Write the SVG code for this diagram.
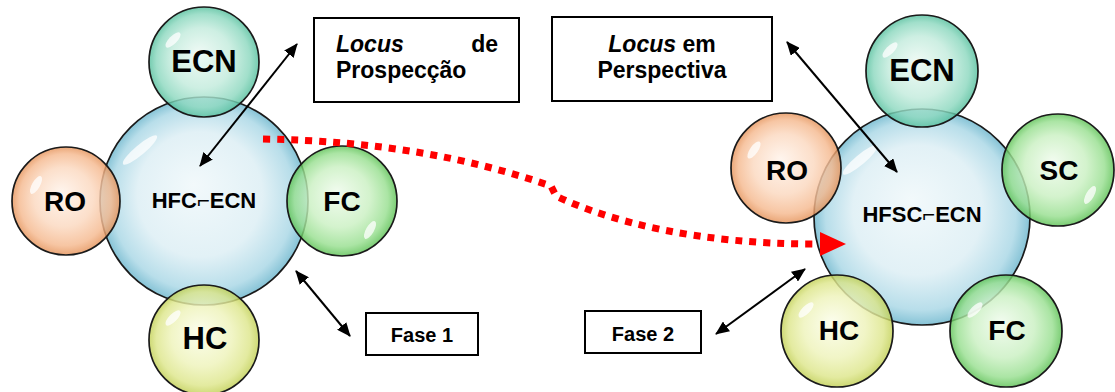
<svg xmlns="http://www.w3.org/2000/svg" width="1115" height="392" viewBox="0 0 1115 392">
<style>
.bub{stroke:#1a1a1a;stroke-width:1.7}
.sat{fill-opacity:0.82}
.hl{fill:#ffffff;opacity:0.75}
.lbl{font-family:"Liberation Sans",Arial,sans-serif;font-weight:bold;fill:#000;text-anchor:middle}
.box{fill:#fff;stroke:#000;stroke-width:2}
.bt{font-family:"Liberation Sans",Arial,sans-serif;font-weight:bold;font-size:23px;fill:#000}
.ft{font-family:"Liberation Sans",Arial,sans-serif;font-weight:bold;font-size:20px;fill:#000;text-anchor:middle}
.arr{stroke:#000;stroke-width:2;fill:none;marker-start:url(#ah);marker-end:url(#ah)}
.red{stroke:#ff0000;stroke-width:7;fill:none;stroke-dasharray:7 7}
</style>
<defs>
<marker id="ah" viewBox="0 0 14 12" refX="13" refY="6" markerWidth="14" markerHeight="12" markerUnits="userSpaceOnUse" orient="auto-start-reverse">
<path d="M0,0 L14,6 L0,12 z" fill="#000"/>
</marker>
<radialGradient id="gBlue" cx="50%" cy="50%" r="50%" fx="45%" fy="42%">
<stop offset="0" stop-color="#f2f9fb"/><stop offset="0.6" stop-color="#e2f1f6"/><stop offset="0.88" stop-color="#b8deea"/><stop offset="1" stop-color="#86c3d6"/>
</radialGradient>
<radialGradient id="gTeal" cx="50%" cy="50%" r="50%" fx="45%" fy="42%">
<stop offset="0" stop-color="#ecf9f3"/><stop offset="0.55" stop-color="#c2ebdc"/><stop offset="0.85" stop-color="#8cd8bf"/><stop offset="1" stop-color="#56c09e"/>
</radialGradient>
<radialGradient id="gOrange" cx="50%" cy="50%" r="50%" fx="45%" fy="42%">
<stop offset="0" stop-color="#fff3ea"/><stop offset="0.55" stop-color="#fbd8bf"/><stop offset="0.85" stop-color="#f5b98f"/><stop offset="1" stop-color="#e5935a"/>
</radialGradient>
<radialGradient id="gGreen" cx="50%" cy="50%" r="50%" fx="45%" fy="42%">
<stop offset="0" stop-color="#effbec"/><stop offset="0.55" stop-color="#caf0c2"/><stop offset="0.85" stop-color="#98df90"/><stop offset="1" stop-color="#5ec256"/>
</radialGradient>
<radialGradient id="gYellow" cx="50%" cy="50%" r="50%" fx="45%" fy="42%">
<stop offset="0" stop-color="#fbfde9"/><stop offset="0.55" stop-color="#eef3ba"/><stop offset="0.85" stop-color="#dde68b"/><stop offset="1" stop-color="#c2d055"/>
</radialGradient>
</defs>
<rect width="1115" height="392" fill="#fff"/>

<!-- Left cluster -->
<g id="hub1">
<circle class="bub" cx="204" cy="201" r="104" fill="url(#gBlue)"/>
<ellipse class="hl" cx="140" cy="150" rx="22" ry="5" transform="rotate(-40 140 150)" opacity="0.5"/>
</g>
<g id="ecn1">
<circle class="bub sat" cx="204" cy="62" r="55" fill="url(#gTeal)"/>
<ellipse class="hl" cx="173" cy="40" rx="10" ry="4" transform="rotate(-45 173 40)"/>
</g>
<g id="ro1">
<circle class="bub sat" cx="66" cy="201" r="54" fill="url(#gOrange)"/>
<ellipse class="hl" cx="36" cy="185" rx="10" ry="4" transform="rotate(-60 36 185)"/>
</g>
<g id="fc1">
<circle class="bub sat" cx="342" cy="201" r="55" fill="url(#gGreen)"/>
<ellipse class="hl" cx="370" cy="230" rx="10" ry="4" transform="rotate(-60 370 230)"/>
</g>
<g id="hc1">
<circle class="bub sat" cx="204" cy="340" r="55" fill="url(#gYellow)"/>
<ellipse class="hl" cx="173" cy="318" rx="10" ry="4" transform="rotate(-45 173 318)"/>
</g>
<g id="labels1">
<text class="lbl" x="204" y="72" font-size="31">ECN</text>
<text class="lbl" x="65" y="211" font-size="28">RO</text>
<text class="lbl" x="342" y="211" font-size="28">FC</text>
<text class="lbl" x="205" y="349" font-size="31">HC</text>
<text class="lbl" x="204" y="208" font-size="22">HFC⌐ECN</text>
</g>

<!-- Right cluster -->
<g id="hub2">
<circle class="bub" cx="922" cy="217" r="108" fill="url(#gBlue)"/>
<ellipse class="hl" cx="860" cy="160" rx="22" ry="5" transform="rotate(-40 860 160)" opacity="0.5"/>
</g>
<g id="ecn2">
<circle class="bub sat" cx="922" cy="71" r="56" fill="url(#gTeal)"/>
<ellipse class="hl" cx="890" cy="50" rx="10" ry="4" transform="rotate(-45 890 50)"/>
</g>
<g id="ro2">
<circle class="bub sat" cx="786" cy="168" r="55" fill="url(#gOrange)"/>
<ellipse class="hl" cx="754" cy="150" rx="10" ry="4" transform="rotate(-55 754 150)"/>
</g>
<g id="sc2">
<circle class="bub sat" cx="1058" cy="170" r="56" fill="url(#gGreen)"/>
<ellipse class="hl" cx="1090" cy="195" rx="10" ry="4" transform="rotate(-60 1090 195)"/>
</g>
<g id="hc2">
<circle class="bub sat" cx="837" cy="331" r="56" fill="url(#gYellow)"/>
<ellipse class="hl" cx="806" cy="310" rx="10" ry="4" transform="rotate(-45 806 310)"/>
</g>
<g id="fc2">
<circle class="bub sat" cx="1006" cy="331" r="56" fill="url(#gGreen)"/>
<ellipse class="hl" cx="975" cy="310" rx="10" ry="4" transform="rotate(-45 975 310)"/>
</g>
<g id="labels2">
<text class="lbl" x="922" y="81" font-size="31">ECN</text>
<text class="lbl" x="787" y="180" font-size="28">RO</text>
<text class="lbl" x="1059" y="180" font-size="28">SC</text>
<text class="lbl" x="839" y="340" font-size="28">HC</text>
<text class="lbl" x="1007" y="340" font-size="28">FC</text>
<text class="lbl" x="922" y="222" font-size="22">HFSC⌐ECN</text>
</g>

<!-- Text boxes -->
<g id="box-prospeccao">
<rect class="box" x="314" y="18" width="205" height="84"/>
<text class="bt" x="336" y="52" font-style="italic">Locus</text>
<text class="bt" x="498" y="52" text-anchor="end">de</text>
<text class="bt" x="336" y="78">Prospecção</text>
</g>
<g id="box-perspectiva">
<rect class="box" x="552" y="17" width="220" height="84"/>
<text class="bt" x="662" y="52" text-anchor="middle"><tspan font-style="italic">Locus</tspan> em</text>
<text class="bt" x="662" y="78" text-anchor="middle">Perspectiva</text>
</g>
<g id="fase1">
<rect class="box" x="366" y="313" width="112" height="42"/>
<text class="ft" x="422" y="342">Fase 1</text>
</g>
<g id="fase2">
<rect class="box" x="585" y="311" width="116" height="42"/>
<text class="ft" x="643" y="341">Fase 2</text>
</g>

<!-- Connectors -->
<g id="connectors">
<line class="arr" x1="297" y1="44" x2="200" y2="166"/>
<line class="arr" x1="296" y1="271" x2="350" y2="336"/>
<line class="arr" x1="787" y1="42" x2="897" y2="172"/>
<line class="arr" x1="805" y1="269" x2="716" y2="334"/>
<path class="red" d="M263,139 C380,141 470,158 551,186 L556,196 C610,222 700,244 814,244"/>
<polygon points="820,232 846,244 820,256" fill="#ff0000"/>
</g>
</svg>
